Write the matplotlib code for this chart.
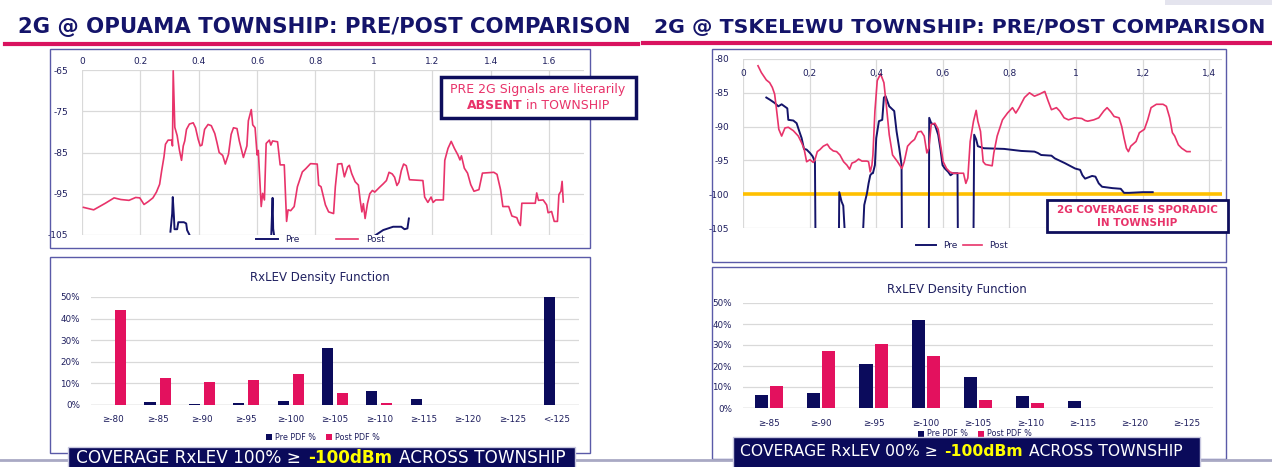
import numpy as np
import matplotlib
matplotlib.use("Agg")
import matplotlib.pyplot as plt
from matplotlib.patches import Rectangle
from matplotlib.lines import Line2D
from matplotlib import font_manager

W, H = 1272, 467
nan = float('nan')

# ---------------- data ----------------
titles = ["2G @ OPUAMA TOWNSHIP: PRE/POST COMPARISON", "2G @ TSKELEWU TOWNSHIP: PRE/POST COMPARISON"]

opu_x_ticks = [0, 0.2, 0.4, 0.6, 0.8, 1.0, 1.2, 1.4, 1.6]
opu_x_labels = ["0", "0.2", "0.4", "0.6", "0.8", "1", "1.2", "1.4", "1.6"]
opu_y_ticks = [-105, -95, -85, -75, -65]

opu_post_x = [0.005, 0.04, 0.08, 0.11, 0.133, 0.161, 0.184, 0.198, 0.2125, 0.227, 0.243, 0.255, 0.266, 0.273,
              0.281, 0.286, 0.295, 0.307, 0.31, 0.3125, 0.318, 0.326, 0.334, 0.341, 0.347, 0.352, 0.358, 0.368,
              0.381, 0.389, 0.398, 0.405, 0.411, 0.42, 0.432, 0.443, 0.455, 0.4625, 0.47, 0.482, 0.491, 0.502,
              0.511, 0.519, 0.531, 0.539, 0.553, 0.565, 0.57, 0.58, 0.585, 0.593, 0.6, 0.604, 0.614, 0.619,
              0.625, 0.631, 0.642, 0.647, 0.653, 0.67, 0.679, 0.693, 0.701, 0.706, 0.715, 0.727, 0.738, 0.755,
              0.767, 0.783, 0.806, 0.811, 0.819, 0.834, 0.845, 0.862, 0.868, 0.876, 0.89, 0.899, 0.91, 0.916,
              0.924, 0.936, 0.947, 0.953, 0.959, 0.964, 0.97, 0.978, 0.986, 0.995, 1.003, 1.02, 1.032, 1.043,
              1.052, 1.063, 1.071, 1.079, 1.086, 1.094, 1.102, 1.111, 1.122, 1.168, 1.174, 1.185, 1.196, 1.203,
              1.212, 1.238, 1.243, 1.254, 1.265, 1.276, 1.288, 1.295, 1.30, 1.31, 1.321, 1.332, 1.343, 1.36,
              1.372, 1.411, 1.422, 1.434, 1.442, 1.462, 1.473, 1.49, 1.496, 1.502, 1.507, 1.553, 1.558, 1.564,
              1.58, 1.592, 1.597, 1.609, 1.618, 1.629, 1.634, 1.641, 1.645, 1.649]
opu_post_y = [-98.3, -98.9, -97.3, -96.0, -96.4, -96.6, -95.9, -96.0, -97.6, -96.9, -96.0, -94.6, -92.7, -89.4,
              -86.0, -83.0, -82.0, -82.0, -83.4, -65.2, -78.9, -80.9, -84.5, -86.9, -83.4, -82.2, -79.4, -78.1,
              -77.8, -79.0, -81.8, -83.4, -83.2, -79.4, -78.2, -78.5, -80.4, -82.6, -85.0, -85.7, -87.8, -85.4,
              -80.6, -79.0, -79.2, -82.2, -86.2, -83.4, -77.3, -74.6, -78.3, -79.0, -85.6, -84.5, -98.1, -94.9,
              -96.5, -82.8, -82.0, -83.2, -82.2, -82.4, -88.0, -88.0, -101.7, -98.9, -99.1, -98.1, -93.3, -89.7,
              -88.9, -87.7, -87.8, -92.9, -93.3, -97.7, -99.4, -99.8, -93.3, -87.8, -87.7, -90.9, -88.5, -88.1,
              -90.1, -92.1, -92.9, -96.5, -99.4, -97.4, -101.0, -97.4, -95.0, -94.2, -94.6, -93.4, -92.6, -91.8,
              -89.8, -90.2, -91.0, -93.0, -92.2, -89.4, -87.8, -88.2, -91.6, -91.8, -95.8, -97.1, -95.8, -97.1,
              -96.5, -96.5, -86.9, -84.0, -82.3, -84.0, -85.6, -86.8, -85.8, -88.8, -90.0, -92.8, -94.4, -94.0,
              -90.0, -89.8, -90.3, -94.0, -98.1, -98.1, -100.4, -100.8, -102.0, -102.7, -97.3, -97.3, -94.8, -96.6,
              -96.5, -97.7, -99.6, -99.3, -101.7, -101.7, -95.2, -94.4, -92.0, -97.0]

opu_pre_x = [0.303, 0.309, 0.311, 0.315, 0.317, 0.326, 0.33, 0.349, 0.357, 0.36, 0.372, nan,
             0.648, 0.651, 0.653, 0.655, 0.657, 0.66, nan,
             0.996, 1.032, 1.066, 1.094, 1.105, 1.115, 1.12]
opu_pre_y = [-104.2, -99.8, -95.8, -100.6, -103.6, -103.6, -101.9, -101.9, -102.2, -103.8, -105.5, nan,
             -106.0, -100.0, -96.0, -103.5, -104.5, -106.0, nan,
             -105.5, -103.8, -103.0, -103.0, -103.6, -103.4, -101.0]

tsk_x_ticks = [0, 0.2, 0.4, 0.6, 0.8, 1.0, 1.2, 1.4]
tsk_x_labels = ["0", "0,2", "0,4", "0,6", "0,8", "1", "1,2", "1,4"]
tsk_y_ticks = [-105, -100, -95, -90, -85, -80]
tsk_threshold = -100

tsk_post_x = [0.045, 0.055, 0.07, 0.08, 0.088, 0.095, 0.1, 0.1075, 0.116, 0.126, 0.136, 0.151, 0.166, 0.176,
              0.183, 0.191, 0.201, 0.211, 0.216, 0.223, 0.231, 0.241, 0.253, 0.261, 0.271, 0.281, 0.291, 0.302,
              0.312, 0.32, 0.327, 0.337, 0.347, 0.357, 0.372, 0.377, 0.382, 0.387, 0.39, 0.396, 0.403, 0.413,
              0.423, 0.43, 0.439, 0.449, 0.464, 0.477, 0.484, 0.494, 0.505, 0.515, 0.525, 0.535, 0.544, 0.552,
              0.558, 0.565, 0.576, 0.586, 0.593, 0.601, 0.611, 0.621, 0.631, 0.662, 0.669, 0.675, 0.682, 0.692,
              0.7, 0.705, 0.713, 0.721, 0.728, 0.748, 0.753, 0.763, 0.779, 0.794, 0.809, 0.819, 0.829, 0.845,
              0.86, 0.875, 0.89, 0.906, 0.916, 0.926, 0.941, 0.951, 0.964, 0.977, 0.996, 1.017, 1.027, 1.035,
              1.053, 1.068, 1.083, 1.093, 1.104, 1.114, 1.129, 1.137, 1.144, 1.151, 1.157, 1.164, 1.18, 1.19,
              1.205, 1.215, 1.225, 1.241, 1.261, 1.271, 1.281, 1.289, 1.296, 1.307, 1.317, 1.332, 1.342]
tsk_post_y = [-81.0, -82.0, -83.1, -83.5, -84.2, -85.2, -87.2, -90.4, -91.4, -90.2, -90.1, -90.6, -91.4, -92.4,
              -93.2, -95.2, -94.9, -95.3, -94.9, -93.7, -93.4, -92.9, -92.6, -93.2, -93.6, -93.7, -94.2, -95.2,
              -95.7, -96.3, -95.4, -95.2, -94.8, -95.1, -95.1, -95.2, -96.7, -95.7, -94.2, -87.7, -83.2, -82.2,
              -83.5, -86.7, -91.2, -94.2, -95.2, -96.2, -95.2, -92.9, -92.3, -91.9, -90.8, -90.7, -91.4, -93.9,
              -93.2, -89.7, -89.5, -90.4, -92.7, -95.2, -96.2, -96.7, -96.9, -96.9, -98.4, -97.6, -92.2, -89.2,
              -87.6, -89.2, -90.7, -95.2, -95.6, -95.8, -93.9, -91.4, -89.0, -88.0, -87.2, -88.0, -87.2, -85.7,
              -85.0, -85.5, -85.2, -84.8, -86.2, -87.5, -87.2, -87.7, -88.7, -89.0, -88.7, -88.8, -89.1, -89.2,
              -89.0, -88.7, -87.7, -87.2, -87.8, -88.5, -88.7, -90.0, -91.7, -93.2, -93.7, -92.9, -92.2, -90.9,
              -90.4, -89.0, -87.2, -86.7, -86.7, -87.0, -88.7, -90.9, -91.4, -92.7, -93.2, -93.7, -93.7]

tsk_pre_x = [0.07, 0.08, 0.095, 0.106, 0.116, 0.133, 0.136, 0.151, 0.161, 0.169, 0.176, 0.183, 0.191, 0.201,
             0.209, 0.216, 0.2175, nan,
             0.288, 0.289, 0.296, 0.301, 0.306, nan,
             0.36, 0.364, 0.372, 0.377, 0.382, 0.387, 0.39, 0.396, 0.4, 0.408, 0.418, 0.423, 0.428, 0.439,
             0.454, 0.461, 0.469, 0.476, 0.477, nan,
             0.558, 0.559, 0.565, 0.576, 0.586, 0.593, 0.599, 0.606, 0.616, 0.623, 0.631, 0.644, 0.645, nan,
             0.692, 0.694, 0.7, 0.705, 0.723, 0.784, 0.835, 0.875, 0.885, 0.895, 0.926, 0.936, 0.966, 0.997,
             1.012, 1.019, 1.027, 1.048, 1.058, 1.068, 1.078, 1.109, 1.134, 1.144, 1.159, 1.2, 1.23]
tsk_pre_y = [-85.7, -86.0, -86.5, -87.0, -86.7, -87.3, -89.0, -89.1, -89.5, -90.7, -91.7, -93.3, -93.4, -93.9,
             -94.4, -95.2, -106.0, nan,
             -106.0, -99.7, -101.1, -101.7, -106.0, nan,
             -106.0, -101.6, -99.9, -98.4, -97.2, -96.9, -96.9, -95.7, -91.7, -89.2, -89.0, -85.7, -85.5, -87.0,
             -87.7, -90.7, -93.2, -95.7, -106.0, nan,
             -106.0, -88.7, -89.5, -89.7, -91.2, -93.4, -95.7, -96.2, -96.7, -97.2, -96.9, -96.9, -106.0, nan,
             -106.0, -91.2, -91.9, -92.9, -93.2, -93.3, -93.6, -93.7, -93.9, -94.2, -94.3, -94.7, -95.4, -96.2,
             -96.4, -97.2, -97.7, -97.3, -97.4, -98.4, -98.9, -99.1, -99.2, -99.8, -99.8, -99.7, -99.7]

opu_cats = ["≥-80", "≥-85", "≥-90", "≥-95", "≥-100", "≥-105", "≥-110", "≥-115", "≥-120", "≥-125", "<-125"]
opu_pre_pdf = [0, 1.5, 0.5, 1.0, 2.0, 26.5, 6.5, 3.0, 0, 0, 50.0]
opu_post_pdf = [44.0, 12.5, 10.5, 11.5, 14.5, 5.5, 1.0, 0, 0, 0, 0]

tsk_cats = ["≥-85", "≥-90", "≥-95", "≥-100", "≥-105", "≥-110", "≥-115", "≥-120", "≥-125"]
tsk_pre_pdf = [6.0, 7.0, 21.0, 42.0, 15.0, 5.5, 3.5, 0, 0]
tsk_post_pdf = [10.5, 27.0, 30.5, 25.0, 4.0, 2.5, 0, 0, 0]
pdf_ticks = [0, 10, 20, 30, 40, 50]

# ---------------- style ----------------
plt.rcParams['axes.unicode_minus'] = False
plt.rcParams['font.family'] = ['DejaVu Sans']

NAVY = '#14146A'
PINK = '#E8336A'
PINKBAR = '#E3115E'
NAVYBAR = '#0B0B5C'
GRID = '#D9D9D9'
TICK = '#1E1E5E'
FRAME = '#5A5AA8'


def has_font(name):
    try:
        font_manager.findfont(name, fallback_to_default=False)
        return True
    except Exception:
        return False


TITLE_FONT = 'Liberation Sans Narrow' if has_font('Liberation Sans Narrow') else 'DejaVu Sans'

fig = plt.figure(figsize=(W / 100, H / 100), dpi=100)
fig.patch.set_facecolor('white')
R = fig.canvas.get_renderer()


def fx(x):
    return x / W


def fy(y):
    return 1 - y / H


def rect(x0, y0, x1, y1):
    return [x0 / W, 1 - y1 / H, (x1 - x0) / W, (y1 - y0) / H]


def box(x0, y0, x1, y1, **kw):
    p = Rectangle((fx(x0), fy(y1)), (x1 - x0) / W, (y1 - y0) / H, transform=fig.transFigure, **kw)
    fig.add_artist(p)
    return p


def hline(x0, x1, y, **kw):
    fig.add_artist(Line2D([fx(x0), fx(x1)], [fy(y), fy(y)], transform=fig.transFigure, **kw))


def rich(parts, xc, yc, fs=10, target_w=None, gap_em=0.3, zorder=7):
    def make(f):
        ts = [fig.text(0, fy(yc), s, fontsize=f, va='center', ha='left', zorder=zorder, **kw) for s, kw in parts]
        ws = [t.get_window_extent(R).width for t in ts]
        return ts, ws, gap_em * f * 100 / 72
    ts, ws, gap = make(fs)
    total = sum(ws) + gap * (len(ws) - 1)
    if target_w:
        for t in ts:
            t.remove()
        fs = fs * target_w / total
        ts, ws, gap = make(fs)
        total = sum(ws) + gap * (len(ws) - 1)
    x = xc - total / 2
    for t, w in zip(ts, ws):
        t.set_x(fx(x))
        x += w + gap


# ---------------- slide decorations ----------------
box(1165, 0, 1272, 5, facecolor='#E4E4EE', edgecolor='none', zorder=0)
hline(5, 638, 44, color='#D9135F', lw=3, zorder=2)
hline(643, 1272, 43, color='#D9135F', lw=3, zorder=2)
hline(0, 1272, 460, color='#A9A9C4', lw=2, zorder=5.5)

rich([(titles[0], dict(color=NAVY, fontweight='bold', family=TITLE_FONT))], 324, 27, fs=18, target_w=612)
rich([(titles[1], dict(color=NAVY, fontweight='bold', family=TITLE_FONT))], 960, 27, fs=18, target_w=610)

# chart frames
for (x0, y0, x1, y1) in [(50, 49, 590, 248), (712, 49, 1226, 262), (50, 257, 590, 453), (712, 267, 1226, 459)]:
    box(x0, y0, x1, y1, facecolor='none', edgecolor=FRAME, lw=1, zorder=1)


def style_line_axes(ax):
    for s in ax.spines.values():
        s.set_visible(False)
    ax.grid(True, color=GRID, lw=0.9)
    ax.set_axisbelow(True)
    ax.tick_params(length=0, labelsize=6.5, colors=TICK)
    ax.set_facecolor('none')


# ---------------- OPUAMA line chart ----------------
ax1 = fig.add_axes(rect(82, 70, 584, 235))
style_line_axes(ax1)
ax1.plot(opu_pre_x, opu_pre_y, color=NAVY, lw=1.4, label='Pre')
ax1.plot(opu_post_x, opu_post_y, color=PINK, lw=1.2, label='Post')
ax1.set_xlim(0, 1.72)
ax1.set_ylim(-105, -65)
ax1.set_xticks(opu_x_ticks, opu_x_labels)
ax1.set_yticks(opu_y_ticks)
ax1.xaxis.tick_top()
ax1.tick_params(axis='x', pad=3)
ax1.tick_params(axis='y', pad=10)
leg = ax1.legend(loc='center', bbox_to_anchor=(fx(320), fy(240)), bbox_transform=fig.transFigure, ncol=2,
                 frameon=False, fontsize=6.5, handlelength=2.5, columnspacing=4, borderpad=0)
for t in leg.get_texts():
    t.set_color(TICK)

# annotation box
box(443, 79, 638, 120, facecolor='#B0B0B0', edgecolor='none', zorder=3)
box(441, 77, 636, 118, facecolor='white', edgecolor='#0E0E5C', lw=2.5, zorder=3.5)
rich([("PRE 2G Signals are literarily", dict(color=PINK))], 538, 89, fs=9)
rich([("ABSENT", dict(color=PINK, fontweight='bold')), ("in TOWNSHIP", dict(color=PINK))], 538, 106, fs=9,
     gap_em=0.3)

# ---------------- TSKELEWU line chart ----------------
ax2 = fig.add_axes(rect(743, 59, 1222, 228))
style_line_axes(ax2)
ax2.axhline(tsk_threshold, color='#FFC000', lw=2.6, zorder=2)
ax2.plot(tsk_pre_x, tsk_pre_y, color=NAVY, lw=1.4, label='Pre', zorder=3)
ax2.plot(tsk_post_x, tsk_post_y, color=PINK, lw=1.2, label='Post', zorder=3)
ax2.set_xlim(0, 1.438)
ax2.set_ylim(-105, -80)
ax2.set_xticks(tsk_x_ticks)
ax2.set_xticklabels([])
for v, lab in zip(tsk_x_ticks, tsk_x_labels):
    ax2.text(v, 1 - 14 / 169, lab, transform=ax2.get_xaxis_transform(), ha='center', va='center',
             fontsize=6.5, color=TICK)
ax2.set_yticks(tsk_y_ticks)
ax2.tick_params(axis='y', pad=10)
leg = ax2.legend(loc='center', bbox_to_anchor=(fx(962), fy(246)), bbox_transform=fig.transFigure, ncol=2,
                 frameon=False, fontsize=6.5, handlelength=2.2, columnspacing=0.6, borderpad=0)
for t in leg.get_texts():
    t.set_color(TICK)

box(1047, 200, 1228, 232, facecolor='white', edgecolor='#0E0E5C', lw=2, zorder=3.5)
rich([("2G COVERAGE IS SPORADIC", dict(color=PINK, fontweight='bold'))], 1137, 210, fs=7.5)
rich([("IN TOWNSHIP", dict(color=PINK, fontweight='bold'))], 1137, 223, fs=7.5)


# ---------------- bar charts ----------------
def bar_chart(rc, cats, pre, post, off, width, title_xy, leg_xy, cat_pad):
    ax = fig.add_axes(rc)
    for s in ax.spines.values():
        s.set_visible(False)
    ax.set_facecolor('none')
    x = np.arange(len(cats))
    ax.bar(x - off, pre, width, color=NAVYBAR, label='Pre PDF %', zorder=3)
    ax.bar(x + off, post, width, color=PINKBAR, label='Post PDF %', zorder=3)
    ax.set_xlim(-0.5, len(cats) - 0.5)
    ax.set_ylim(0, 50)
    ax.set_yticks(pdf_ticks, [f"{v}%" for v in pdf_ticks])
    ax.set_xticks(x, cats)
    ax.yaxis.grid(True, color=GRID, lw=0.9)
    ax.axhline(0, color='#C8C8C8', lw=1, zorder=2)
    ax.set_axisbelow(True)
    ax.tick_params(length=0, labelsize=6.3, colors=TICK)
    ax.tick_params(axis='x', pad=cat_pad)
    ax.tick_params(axis='y', pad=8)
    fig.text(fx(title_xy[0]), fy(title_xy[1]), "RxLEV Density Function", ha='center', va='center',
             fontsize=8.5, color='#1F2060')
    lg = ax.legend(loc='center', bbox_to_anchor=(fx(leg_xy[0]), fy(leg_xy[1])), bbox_transform=fig.transFigure,
                   ncol=2, frameon=False, fontsize=5.8, handlelength=0.7, handleheight=0.7, handletextpad=0.4,
                   columnspacing=1.2, borderpad=0)
    lg.set_zorder(4)
    for t in lg.get_texts():
        t.set_color(TICK)
    return ax


bar_chart(rect(91, 297, 579, 405), opu_cats, opu_pre_pdf, opu_post_pdf, 0.17, 0.25, (320, 278), (323, 437), 7)
bar_chart(rect(743, 303, 1213, 408), tsk_cats, tsk_pre_pdf, tsk_post_pdf, 0.145, 0.25, (957, 289), (975, 434), 8)

# ---------------- banners ----------------
box(68, 447, 575, 470, facecolor='#0A0A5A', edgecolor='#C8C8E0', lw=1, zorder=6)
rich([("COVERAGE RxLEV 100% ≥", dict(color='white')), ("-100dBm", dict(color='#FFFF00', fontweight='bold')),
      ("ACROSS TOWNSHIP", dict(color='white'))], 321, 458, fs=12, target_w=488, gap_em=0.4)
box(733, 437, 1200, 470, facecolor='#0A0A5A', edgecolor='#C8C8E0', lw=1, zorder=6)
rich([("COVERAGE RxLEV 00% ≥", dict(color='white')), ("-100dBm", dict(color='#FFFF00', fontweight='bold')),
      ("ACROSS TOWNSHIP", dict(color='white'))], 961, 452, fs=12, target_w=440, gap_em=0.4)

fig.savefig("out.png", dpi=100, facecolor='white')
